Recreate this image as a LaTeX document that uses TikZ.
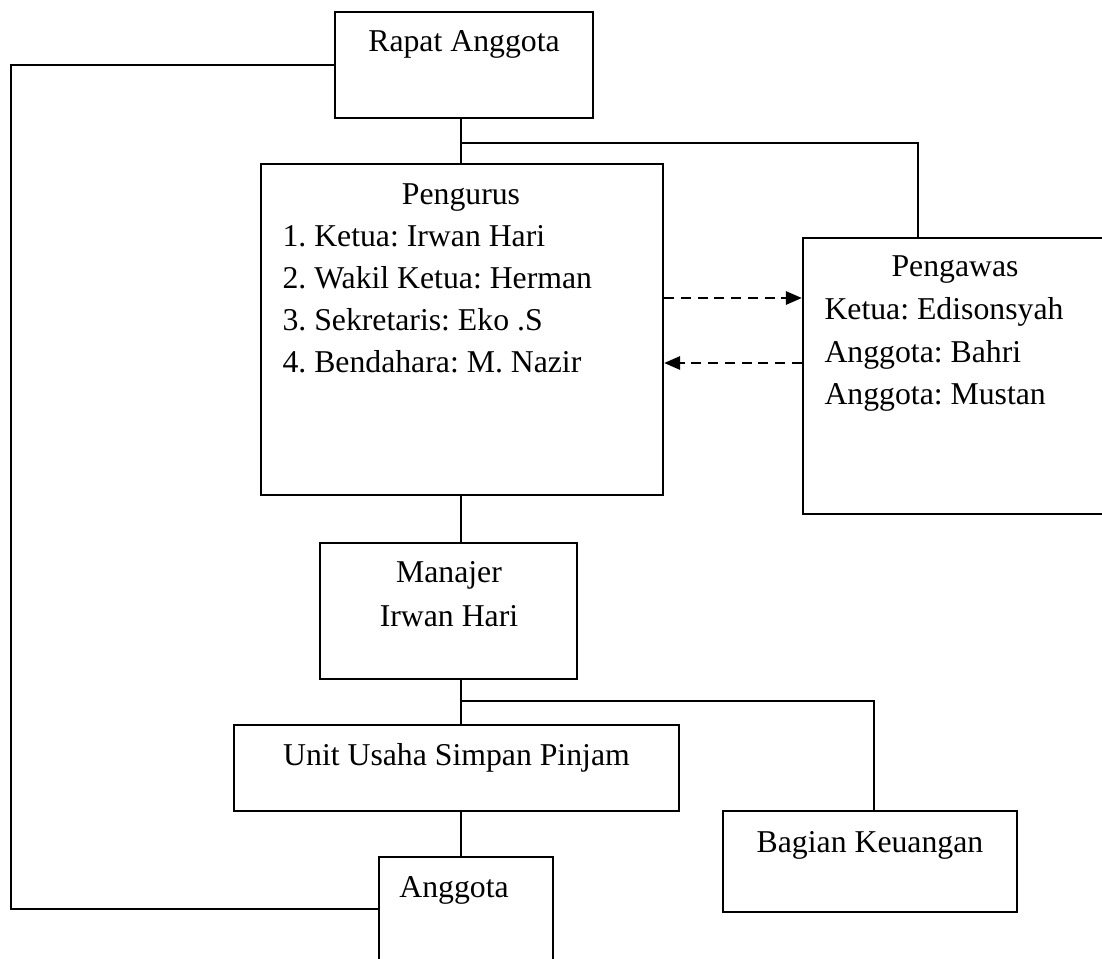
\documentclass[tikz,border=0pt]{standalone}
\usepackage{fontspec}
\setmainfont{Liberation Serif}
\frenchspacing
\usetikzlibrary{arrows.meta, positioning}

\begin{document}
\begin{tikzpicture}[
    x=0.4pt, y=-0.4pt,
    box/.style={draw, line width=0.85pt, rectangle, inner sep=0pt},
    txt/.style={inner sep=0pt, anchor=base, font=\fontsize{12.7}{16.8}\selectfont},
    txtl/.style={txt, anchor=base west},
    link/.style={line width=0.75pt},
    dlink/.style={line width=1.1pt, dash pattern=on 4pt off 2.7pt,
                  -{Triangle[length=6.4pt, width=5.2pt]}}
]
\useasboundingbox (0,0) rectangle (1102,959);

% boxes
\node[box, minimum width=103.2pt, minimum height=42.4pt]  (rapat)    at (464,65)    {};
\node[box, minimum width=160.8pt, minimum height=132.4pt] (pengurus) at (462,329.5) {};
\node[box, minimum width=122pt,   minimum height=110.4pt] (pengawas) at (955.5,376) {};
\node[box, minimum width=102.8pt, minimum height=54.4pt]  (manajer)  at (448.5,611) {};
\node[box, minimum width=178pt,   minimum height=34.4pt]  (unit)     at (456.5,768) {};
\node[box, minimum width=117.6pt, minimum height=40.4pt]  (bagian)   at (870,861.5) {};
\node[box, minimum width=69.6pt,  minimum height=41.6pt]  (anggota)  at (466,909)   {};

% texts
\node[txt] (rapatT) at (464,52) {Rapat Anggota};

\node[txt]  (pengurusT) at (461,205) {Pengurus};
\node[txtl] (pengurus1) at (282,247) {1. Ketua: Irwan Hari};
\node[txtl] (pengurus2) at (282,289) {2. Wakil Ketua: Herman};
\node[txtl] (pengurus3) at (282,331) {3. Sekretaris: Eko .S};
\node[txtl] (pengurus4) at (282,373) {4. Bendahara: M. Nazir};

\node[txt]  (pengawasT) at (955,277) {Pengawas};
\node[txtl] (pengawas1) at (824,320) {Ketua: Edisonsyah};
\node[txtl] (pengawas2) at (824,362) {Anggota: Bahri};
\node[txtl] (pengawas3) at (824,405) {Anggota: Mustan};

\node[txt] (manajerT)  at (449,583) {Manajer};
\node[txt] (manajerN)  at (449,627) {Irwan Hari};
\node[txt] (unitT)     at (456.5,765) {Unit Usaha Simpan Pinjam};
\node[txt] (bagianT)   at (870,852) {Bagian Keuangan};
\node[txt] (anggotaT)  at (454,897) {Anggota};

% connectors
\coordinate (leftC) at (11,0);
\coordinate (spine) at (461,0);
\coordinate (jA) at (461,143);
\coordinate (jB) at (461,701);

\draw[link] (rapat.west) -| (leftC |- anggota.west) -- (anggota.west);
\draw[link] (spine |- rapat.south) -- (spine |- pengurus.north);
\draw[link] (jA) -| ([xshift=46.4pt]pengawas.north west);
\draw[link] (spine |- pengurus.south) -- (spine |- manajer.north);
\draw[link] (spine |- manajer.south) -- (spine |- unit.north);
\draw[link] (jB) -| ([xshift=1.6pt]bagian.north);
\draw[link] (spine |- unit.south) -- (spine |- anggota.north);

\draw[dlink] ([yshift=12.6pt]pengurus.east) -- ([yshift=12.6pt]pengurus.east -| pengawas.west);
\draw[dlink] ([yshift=-13.4pt]pengurus.east -| pengawas.west) -- ([yshift=-13.4pt]pengurus.east);
\end{tikzpicture}
\end{document}
